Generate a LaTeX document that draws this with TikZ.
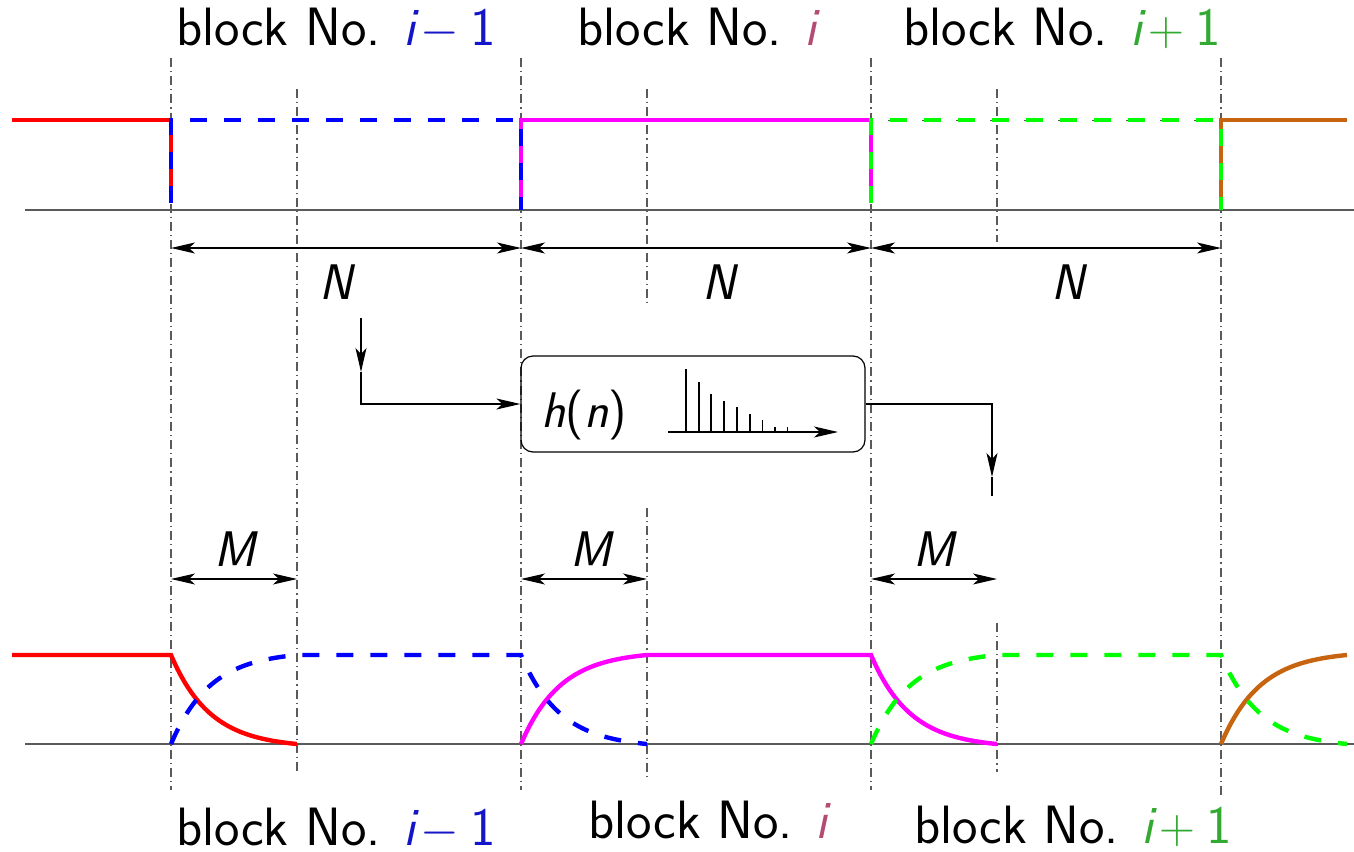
\documentclass[tikz,border=0pt]{standalone}
\usepackage{fontspec}
\usetikzlibrary{arrows.meta}
\definecolor{mybrown}{RGB}{198,100,16}
\definecolor{mymagenta}{RGB}{255,0,255}
\definecolor{mygreen}{RGB}{0,255,0}
\definecolor{myblue}{RGB}{0,0,255}
\definecolor{myred}{RGB}{255,0,0}
\definecolor{lblblue}{RGB}{20,20,200}
\definecolor{lblpink}{RGB}{180,75,115}
\definecolor{lblgreen}{RGB}{50,170,50}
\definecolor{guide}{RGB}{90,90,90}
\tikzset{
  sig/.style={line width=2.2pt},
  dsig/.style={line width=2.2pt, dash pattern=on 8.5pt off 8.5pt},
  guideline/.style={guide, line width=0.6pt, dash pattern=on 4.5pt off 2pt on 0.6pt off 2pt},
  axisline/.style={guide, line width=0.7pt},
  tip/.tip={Stealth[length=12pt,width=5.5pt,inset=3pt]},
  dim/.style={line width=0.6pt, tip-tip},
  conn/.style={line width=0.6pt, -tip},
  plainline/.style={line width=0.6pt},
  lbl/.style={font=\fontsize{27}{32}\selectfont\sffamily, inner sep=0pt, anchor=base},
  sym/.style={font=\fontsize{25}{30}\selectfont\sffamily, inner sep=0pt, anchor=base},
  stem/.style={line width=0.7pt},
  pl/.style={domain=0:1,samples=40,smooth},
}
\newcommand{\imin}{$\textit{i}\mkern2mu\mathord{-}\mkern4mu\textup{1}$}
\newcommand{\iplu}{$\textit{i}\mkern2mu\mathord{+}\mkern4mu\textup{1}$}
\begin{document}
\begin{tikzpicture}[x=0.5pt,y=-0.5pt]
\useasboundingbox (0,0) rectangle (1354,851);

% guide lines
\foreach \xx/\ya/\yb in {171/58/790, 521/58/790, 871/58/790, 1221/58/795, 297/89/772, 647/89/305, 647/508/777, 997/89/242, 997/623/772}
  \draw[guideline] (\xx,\ya) -- (\xx,\yb);

% baselines
\draw[axisline] (25,210) -- (1354,210);
\draw[axisline] (25,744) -- (1354,744);

% top signals
\draw[sig, myred] (12,120) -- (171,120) -- (171,203);
\draw[sig, mymagenta] (521,210) -- (521,120) -- (871,120) -- (871,203);
\draw[sig, mybrown] (1221,210) -- (1221,120) -- (1347,120);
\draw[guide, line width=0.5pt, dash pattern=on 8.5pt off 8.5pt, dash phase=8.5pt] (871,120) -- (1221,120);
\draw[dsig, myblue] (171,203) -- (171,120) -- (521,120) -- (521,210);
\draw[dsig, mygreen] (871,203) -- (871,120) -- (1221,120) -- (1221,210);

% bottom signals
\draw[sig, myred] (12,655) -- (171,655) -- plot[pl] ({171+126*\x},{655+89*(1-exp(-3.2*\x))/0.95924});
\draw[sig, mymagenta] plot[pl] ({521+126*\x},{744-89*(1-exp(-3.2*\x))/0.95924}) -- (871,655) -- plot[pl] ({871+126*\x},{655+89*(1-exp(-3.2*\x))/0.95924});
\draw[sig, mybrown] plot[pl] ({1221+126*\x},{744-89*(1-exp(-3.2*\x))/0.95924});
\draw[dsig, myblue] plot[pl] ({171+126*\x},{744-89*(1-exp(-3.2*\x))/0.95924}) -- (521,655) -- plot[pl] ({521+126*\x},{655+89*(1-exp(-3.2*\x))/0.95924});
\draw[dsig, mygreen] plot[pl] ({871+126*\x},{744-89*(1-exp(-3.2*\x))/0.95924}) -- (1221,655) -- plot[pl] ({1221+126*\x},{655+89*(1-exp(-3.2*\x))/0.95924});

% dimension arrows
\coordinate (n0) at (171,248);
\coordinate (n1) at (521,248);
\coordinate (n2) at (871,248);
\coordinate (n3) at (1221,248);
\draw[dim] (n0) -- (n1);
\draw[dim] (n1) -- (n2);
\draw[dim] (n2) -- (n3);
\coordinate (m0a) at (171,579); \coordinate (m0b) at (297,579);
\coordinate (m1a) at (521,579); \coordinate (m1b) at (647,579);
\coordinate (m2a) at (871,579); \coordinate (m2b) at (997,579);
\draw[dim] (m0a) -- (m0b);
\draw[dim] (m1a) -- (m1b);
\draw[dim] (m2a) -- (m2b);

\node[sym] (N0) at (336,299) {\itshape N};
\node[sym] (N1) at (719,299) {\itshape N};
\node[sym] (N2) at (1068,299) {\itshape N};
\node[sym] (M0) at (235,566) {\itshape M};
\node[sym] (M1) at (591,566) {\itshape M};
\node[sym] (M2) at (934,566) {\itshape M};

% filter box
\node[draw, line width=0.6pt, rounded corners=6pt, minimum width=172pt, minimum height=48pt, inner sep=0pt] (hbox) at (693,404) {};
\node[sym] (hn) at (584,427) {\textit{h}\textup{(}\textit{n}\textup{)}};
\draw[line width=0.6pt, -tip] (668,432) -- (838,432);
\foreach \sx/\sy in {686/369, 699/382, 711/394, 724/401, 737/407, 750/414, 762.5/420, 775/427, 787.5/427}
  \draw[stem] (\sx,432) -- (\sx,\sy);

% connectors
\coordinate (inA) at (361,318);
\coordinate (inB) at (361,372);
\draw[conn] (inA) -- (inB);
\draw[conn] (inB) |- (hbox.west);
\coordinate (outB) at (992,477);
\coordinate (outC) at (992,496);
\draw[conn] (hbox.east) -| (outB);
\draw[plainline] (outB) -- (outC);

% labels
\node[lbl] (t0) at (336,46) {block No. \textcolor{lblblue}{\imin}};
\node[lbl] (t1) at (697,46) {block No. \textcolor{lblpink}{\itshape i}};
\node[lbl] (t2) at (1062,46) {block No. \textcolor{lblgreen}{\iplu}};
\node[lbl] (b0) at (336,845) {block No. \textcolor{lblblue}{\imin}};
\node[lbl] (b1) at (708,838) {block No. \textcolor{lblpink}{\itshape i}};
\node[lbl] (b2) at (1073,843) {block No. \textcolor{lblgreen}{\iplu}};
\end{tikzpicture}
\end{document}
